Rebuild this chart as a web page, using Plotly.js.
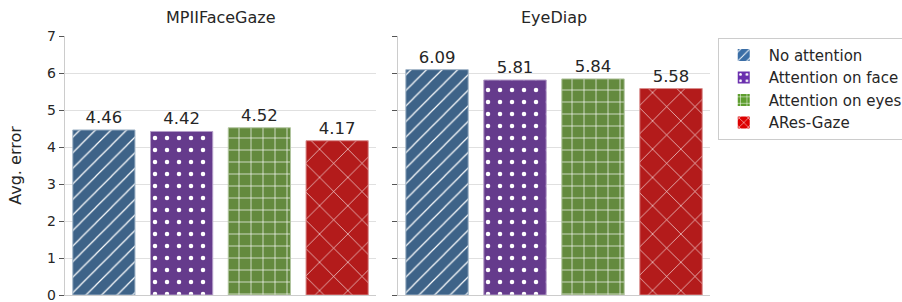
<!DOCTYPE html>
<html><head><meta charset="utf-8">
<script src="https://cdn.plot.ly/plotly-3.0.1.min.js"></script>
<style>html,body{margin:0;padding:0;background:#fff}</style>
</head><body>
<div id="chart" style="width:902px;height:302px"></div>
<script>
const datasets = ["MPIIFaceGaze", "EyeDiap"];
const methods = ["No attention", "Attention on face", "Attention on eyes", "ARes-Gaze"];
const mpiiValues = [4.46, 4.42, 4.52, 4.17];
const eyediapValues = [6.09, 5.81, 5.84, 5.58];
const yTicks = [0, 1, 2, 3, 4, 5, 6, 7];

const barColors = ["#3e6388", "#653b8c", "#648a3e", "#b31b1b"];
const legendColors = ["#3b6ea6", "#6a2fae", "#5f9e30", "#dd0000"];
const edgeColors = ["#9fb3c6", "#b39dc7", "#b2c59f", "#d98d8d"];
const shapes = ["/", ".", "+", "x"];
const sizes = [11, 12, 12, 20];
const solid = [0.11, 0.11, 0.11, 0.06];

const traces = [];
[mpiiValues, eyediapValues].forEach((vals, p) => {
  methods.forEach((m, i) => {
    traces.push({
      type: "bar",
      x: [datasets[p]],
      y: [vals[i]],
      name: m,
      legendgroup: m,
      showlegend: false,
      xaxis: p === 0 ? "x" : "x2",
      yaxis: p === 0 ? "y" : "y2",
      marker: {
        color: barColors[i],
        line: {color: edgeColors[i], width: 1},
        pattern: {shape: shapes[i], fgcolor: "#ffffff", bgcolor: barColors[i], size: sizes[i], solidity: solid[i], fillmode: "replace"}
      },
      texttemplate: "%{y:.2f}",
      textposition: "outside",
      textfont: {size: 16.5, color: "#262626"},
      cliponaxis: false,
      hoverinfo: "skip"
    });
  });
});
// legend-only entries (brighter patch colours as in the reference legend)
methods.forEach((m, i) => {
  traces.push({
    type: "bar", x: [null], y: [null], name: m, legendgroup: m, showlegend: true,
    xaxis: "x3", yaxis: "y3",
    marker: {
      color: legendColors[i],
      pattern: {shape: shapes[i], fgcolor: "#ffffff", bgcolor: legendColors[i], size: 8, solidity: 0.15, fillmode: "replace"}
    },
    hoverinfo: "skip"
  });
});

const yax = {
  range: [0, 7], tickvals: yTicks, ticks: "outside", ticklen: 5, tickcolor: "#555",
  showline: true, linecolor: "#cccccc", linewidth: 1.2,
  gridcolor: "#e0e0e0", gridwidth: 1, zeroline: false,
  tickfont: {size: 14, color: "#262626"}, ticklabeloverflow: "allow"
};
const xax = {showticklabels: false, ticks: "", showline: true, linecolor: "#cccccc", showgrid: false, zeroline: false};

const layout = {
  width: 902, height: 302,
  margin: {l: 65, r: 192, t: 36, b: 7, autoexpand: false},
  paper_bgcolor: "#fff", plot_bgcolor: "#fff",
  font: {family: "DejaVu Sans", color: "#262626"},
  barmode: "group", bargap: 0, bargroupgap: 0.2,
  xaxis: Object.assign({domain: [0, 0.4822]}, xax),
  xaxis2: Object.assign({domain: [0.5163, 1]}, xax),
  xaxis3: {domain: [0, 0.001], visible: false, anchor: "y3"},
  yaxis3: {domain: [0, 0.001], visible: false, anchor: "x3"},
  yaxis: Object.assign({title: {text: "Avg. error", font: {size: 16, color: "#262626"}, standoff: 21}}, yax),
  yaxis2: Object.assign({anchor: "x2", showticklabels: false}, yax),
  showlegend: true,
  legend: {
    x: 1.012, xanchor: "left", y: 0.993, yanchor: "top",
    bordercolor: "#cccccc", borderwidth: 1, bgcolor: "#fff",
    font: {size: 15, color: "#262626"}, traceorder: "normal", itemwidth: 40
  },
  annotations: [
    {text: "MPIIFaceGaze", xref: "x domain", yref: "paper", x: 0.5, y: 1, yshift: 19, yanchor: "middle", showarrow: false, font: {size: 16, color: "#262626"}},
    {text: "EyeDiap", xref: "x2 domain", yref: "paper", x: 0.5, y: 1, yshift: 19, yanchor: "middle", showarrow: false, font: {size: 16, color: "#262626"}}
  ]
};
Plotly.newPlot("chart", traces, layout, {displayModeBar: false, staticPlot: true});
</script>
</body></html>
